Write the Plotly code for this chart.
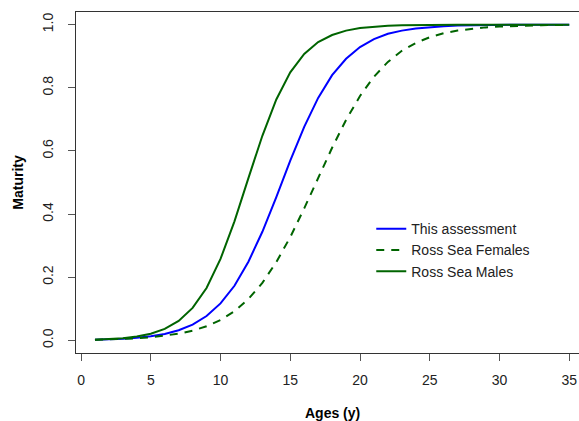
import plotly.graph_objects as go

# Age classes (years)
ages = list(range(1, 36))

# Proportion mature at age
this_assessment = [
    0.0021, 0.0033, 0.0053, 0.0083, 0.0131, 0.0205, 0.0322, 0.050, 0.077, 0.117,
    0.173, 0.249, 0.344, 0.454, 0.569, 0.676, 0.768, 0.840, 0.892, 0.929,
    0.954, 0.971, 0.981, 0.988, 0.9924, 0.9952, 0.9970, 0.9981, 0.9988, 0.9992,
    0.9995, 0.9997, 0.9998, 0.9999, 0.9999,
]
ross_sea_females = [
    0.0021, 0.0031, 0.0045, 0.0066, 0.0097, 0.0143, 0.021, 0.0308, 0.0447, 0.0646,
    0.0925, 0.131, 0.182, 0.248, 0.327, 0.418, 0.515, 0.610, 0.698, 0.774,
    0.835, 0.882, 0.917, 0.942, 0.960, 0.9726, 0.9813, 0.9872, 0.9913, 0.9941,
    0.9960, 0.9973, 0.9982, 0.9988, 0.9992,
]
ross_sea_males = [
    0.0023, 0.0041, 0.0070, 0.0122, 0.0211, 0.0362, 0.0617, 0.1027, 0.166, 0.258,
    0.377, 0.514, 0.648, 0.763, 0.849, 0.907, 0.945, 0.967, 0.981, 0.989,
    0.9937, 0.9964, 0.9979, 0.9988, 0.9993, 0.9996, 0.9998, 0.9999, 0.9999, 1.0,
    1.0, 1.0, 1.0, 1.0, 1.0,
]

x_ticks = [0, 5, 10, 15, 20, 25, 30, 35]
y_ticks = [0.0, 0.2, 0.4, 0.6, 0.8, 1.0]

FONT = "Arial, 'Liberation Sans', sans-serif"
TEXT = "#222222"
FS = 14

fig = go.Figure()
fig.add_trace(go.Scatter(
    x=ages, y=this_assessment, mode="lines", name="This assessment",
    line=dict(color="#0000FF", width=2),
))
fig.add_trace(go.Scatter(
    x=ages, y=ross_sea_females, mode="lines", name="Ross Sea Females",
    line=dict(color="#006400", width=2, dash="8px,7px"),
))
fig.add_trace(go.Scatter(
    x=ages, y=ross_sea_males, mode="lines", name="Ross Sea Males",
    line=dict(color="#006400", width=2),
))

fig.update_layout(
    width=579, height=421,
    margin=dict(l=76, r=0, t=12, b=68),
    paper_bgcolor="white", plot_bgcolor="white",
    font=dict(family=FONT, size=FS, color=TEXT),
    showlegend=True,
    legend=dict(
        x=0.587, y=0.41, xanchor="left", yanchor="top",
        bgcolor="rgba(0,0,0,0)", borderwidth=0,
        font=dict(family=FONT, size=FS, color=TEXT),
        tracegroupgap=0, itemwidth=30,
    ),
    xaxis=dict(
        range=[-0.36, 35.70], tickvals=x_ticks,
        showgrid=False, zeroline=False,
        showline=True, linecolor="#333333", linewidth=1, mirror=True,
        ticks="outside", ticklen=7, tickcolor="#555555",
        ticklabelstandoff=7,
        tickfont=dict(family=FONT, size=FS, color=TEXT),
    ),
    yaxis=dict(
        range=[-0.04, 1.04], tickvals=y_ticks, tickformat=".1f",
        showgrid=False, zeroline=False,
        showline=True, linecolor="#333333", linewidth=1,
        ticks="outside", ticklen=7, tickcolor="#555555",
        tickangle=-90, ticklabelstandoff=9,
        tickfont=dict(family=FONT, size=FS, color=TEXT),
    ),
    annotations=[
        dict(text="<b>Ages (y)</b>", x=18.0, xref="x", y=-0.177, yref="paper",
             xanchor="center", yanchor="middle", showarrow=False,
             font=dict(family=FONT, size=FS, color="black")),
        dict(text="<b>Maturity</b>", x=-0.117, xref="paper", y=0.5, yref="paper",
             xanchor="center", yanchor="middle", textangle=-90, showarrow=False,
             font=dict(family=FONT, size=FS, color="black")),
    ],
)

fig.write_html("out.html")
